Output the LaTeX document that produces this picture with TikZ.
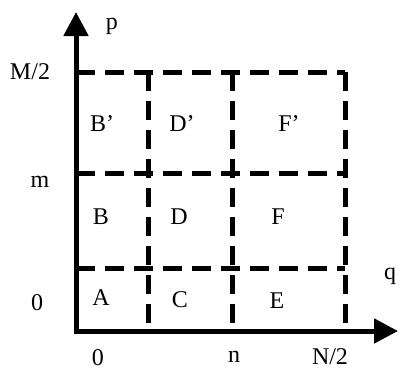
\documentclass[tikz,border=0pt]{standalone}
\usepackage{fontspec}
\setmainfont{Liberation Serif}
\usetikzlibrary{arrows.meta}
\begin{document}
\begin{tikzpicture}[x=1pt,y=-1pt,
  axis/.style={line width=5pt,-{Triangle[length=24pt,width=24pt]}},
  grid/.style={line width=5pt,dash pattern=on 19pt off 10pt},
  lbl/.style={inner sep=0pt,font=\fontsize{24}{28}\selectfont}]
\useasboundingbox (0,0) rectangle (400,372);
% coordinates
\coordinate (O) at (76,331);
\coordinate (ytip) at (76,12);
\coordinate (xtip) at (398,331);
\coordinate (a1) at (76,72);  \coordinate (a2) at (345,72);
\coordinate (b1) at (76,173); \coordinate (b2) at (345,173);
\coordinate (c1) at (76,268); \coordinate (c2) at (345,268);
\coordinate (v1t) at (148,72); \coordinate (v1b) at (148,331);
\coordinate (v2t) at (232,72); \coordinate (v2b) at (232,331);
\coordinate (v3t) at (345,72); \coordinate (v3b) at (345,331);
% grid
\draw[grid] (a1) -- (a2);
\draw[grid] (b1) -- (b2);
\draw[grid] (c1) -- (c2);
\draw[grid] (v1t) -- (v1b);
\draw[grid] (v2t) -- (v2b);
\draw[grid] (v3t) -- (v3b);
% axes
\draw[axis] ([yshift=2.5pt]O) -- (ytip);
\draw[axis] ([xshift=-2.5pt]O) -- (xtip);
% axis labels
\node[lbl] (p) at (112,26) {p};
\node[lbl] (q) at (390,276) {q};
\node[lbl] (M2) at (30,72) {M/2};
\node[lbl] (m) at (40,182) {m};
\node[lbl] (zl) at (37,303) {0};
\node[lbl] (zb) at (98,358) {0};
\node[lbl] (n) at (234,357) {n};
\node[lbl] (N2) at (330,357) {N/2};
% region labels
\node[lbl] (Bp) at (102,124) {B'};
\node[lbl] (Dp) at (182,124) {D'};
\node[lbl] (Fp) at (289,124) {F'};
\node[lbl] (B) at (101,217) {B};
\node[lbl] (D) at (179,217) {D};
\node[lbl] (F) at (278,217) {F};
\node[lbl] (A) at (101,298) {A};
\node[lbl] (C) at (180,300) {C};
\node[lbl] (E) at (277,301) {E};
\end{tikzpicture}
\end{document}
